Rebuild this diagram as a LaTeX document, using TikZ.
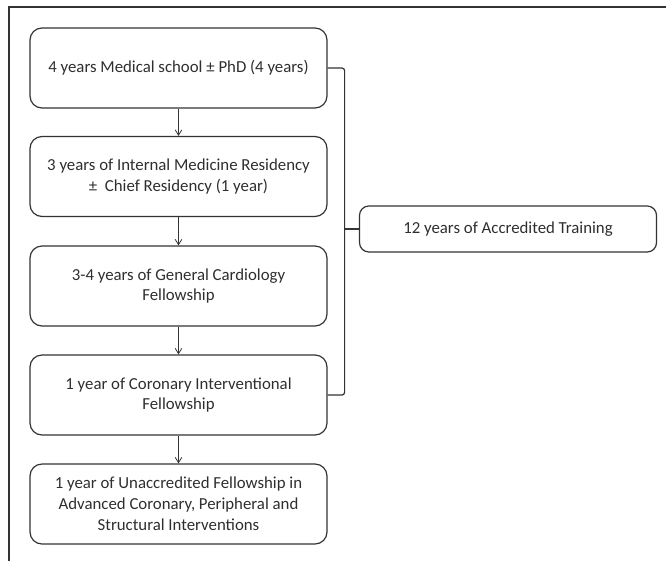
\documentclass[tikz,border=0pt]{standalone}
\usepackage{fontspec}
\setmainfont{Carlito}
\usetikzlibrary{arrows.meta}
\definecolor{edgegray}{HTML}{333333}
\definecolor{textgray}{HTML}{2E2E2E}

\begin{document}
\begin{tikzpicture}[x=0.75pt,y=-0.75pt,
 stage/.style={draw=edgegray,line width=0.9pt,rounded corners=9pt,
   minimum width=222.75pt,minimum height=60pt,inner sep=2pt,align=center,
   text=textgray,font=\fontsize{12.6}{15.6}\selectfont},
 total/.style={stage,minimum height=34.5pt,rounded corners=7pt},
 flow/.style={draw=edgegray,line width=0.6pt,-{Straight Barb[length=4pt,width=5pt]}},
 span/.style={draw=edgegray,line width=0.9pt,rounded corners=2pt}]

\useasboundingbox (0,0) rectangle (666,561);
% frame, cut off on the right and at the bottom
\draw[edgegray,line width=0.8pt] (666,7) -- (9,7) -- (9,561);

\def\cx{178.5}
\node[stage] (med)  at (\cx,68)  {4 years Medical school ± PhD (4 years)};
\node[stage] (res)  at (\cx,176.5) {3 years of Internal Medicine Residency\\ ±\ \ Chief Residency (1 year)};
\node[stage] (card) at (\cx,286) {3-4 years of General Cardiology\\ Fellowship};
\node[stage] (intv) at (\cx,395) {1 year of Coronary Interventional\\ Fellowship};
\node[stage] (adv)  at (\cx,504) {1 year of Unaccredited Fellowship in\\ Advanced Coronary, Peripheral and\\ Structural Interventions};
\node[total] (acc)  at (508,229) {12 years of Accredited Training};

\draw[flow] (med)  -- (res);
\draw[flow] (res)  -- (card);
\draw[flow] (card) -- (intv);
\draw[flow] (intv) -- (adv);

% bracket over the accredited years
\coordinate (mid) at (344,229);
\draw[span] (med.east) -- ++(17,0) |- (intv.east);
\draw[span] (mid) -- (acc.west);
\end{tikzpicture}
\end{document}
